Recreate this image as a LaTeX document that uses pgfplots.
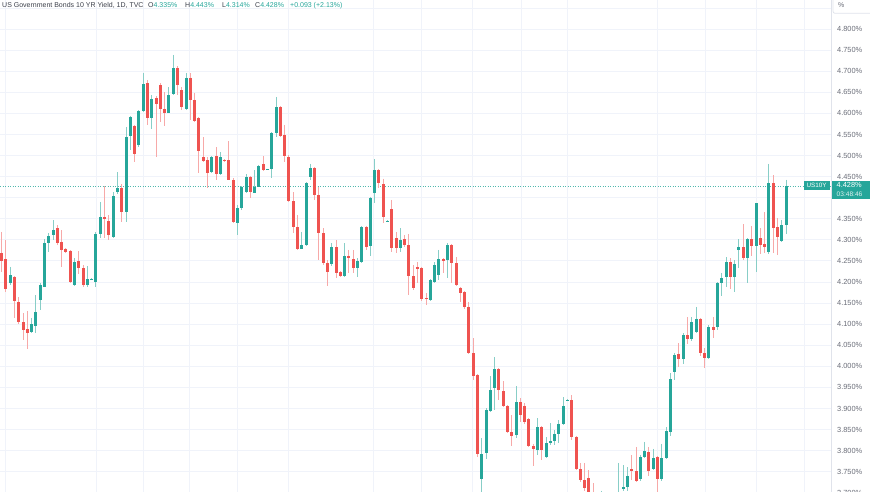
\documentclass[border=0pt]{standalone}
\usepackage{pgfplots}
\usepackage{pgfplotstable}
\pgfplotsset{compat=1.18}
\usepackage{fontspec}
\setmainfont{Liberation Sans}
\definecolor{up}{HTML}{26A69A}
\definecolor{down}{HTML}{EF5350}
\definecolor{gridc}{HTML}{F0F3FA}
\definecolor{axisc}{HTML}{E0E3EB}
\definecolor{lblc}{HTML}{6A6D78}
\definecolor{txt}{HTML}{3B3F4A}

% rising candles
\pgfplotstableread{
i O H L C
3 4.198 4.236 4.193 4.216
8 4.081 4.115 4.079 4.100
9 4.096 4.169 4.079 4.129
10 4.157 4.198 4.133 4.193
11 4.188 4.302 4.188 4.292
12 4.292 4.316 4.271 4.309
13 4.312 4.347 4.299 4.323
18 4.193 4.257 4.191 4.247
21 4.193 4.238 4.188 4.207
22 4.206 4.209 4.204 4.207
23 4.199 4.319 4.188 4.314
24 4.314 4.390 4.304 4.354
27 4.307 4.413 4.304 4.404
28 4.413 4.461 4.408 4.423
30 4.365 4.568 4.342 4.544
31 4.546 4.594 4.513 4.591
33 4.525 4.608 4.520 4.606
34 4.606 4.696 4.603 4.669
36 4.589 4.644 4.563 4.634
40 4.601 4.662 4.601 4.644
41 4.646 4.739 4.644 4.707
44 4.611 4.696 4.608 4.684
50 4.461 4.498 4.458 4.496
52 4.456 4.508 4.453 4.496
56 4.340 4.382 4.312 4.375
57 4.375 4.428 4.370 4.425
58 4.413 4.456 4.411 4.449
60 4.411 4.465 4.411 4.425
61 4.425 4.478 4.425 4.475
63 4.467 4.469 4.465 4.468
64 4.468 4.556 4.447 4.553
65 4.553 4.639 4.544 4.615
71 4.279 4.319 4.278 4.287
72 4.287 4.437 4.285 4.435
73 4.449 4.480 4.442 4.470
78 4.242 4.292 4.238 4.283
81 4.214 4.292 4.212 4.262
84 4.233 4.257 4.212 4.249
85 4.247 4.332 4.245 4.330
87 4.285 4.402 4.262 4.399
88 4.411 4.491 4.387 4.465
91 4.344 4.347 4.342 4.345
94 4.281 4.328 4.271 4.299
101 4.157 4.207 4.155 4.204
102 4.199 4.247 4.198 4.240
103 4.216 4.276 4.204 4.254
105 4.252 4.292 4.209 4.287
113 3.733 3.830 3.690 3.792
114 3.794 3.901 3.780 3.897
115 3.894 3.977 3.892 3.944
116 3.948 4.022 3.897 3.993
121 3.837 3.953 3.830 3.915
126 3.801 3.877 3.789 3.856
128 3.784 3.832 3.782 3.818
129 3.818 3.865 3.814 3.823
130 3.823 3.849 3.814 3.839
131 3.839 3.872 3.818 3.864
132 3.864 3.927 3.861 3.906
133 3.919 3.922 3.917 3.920
141 3.697 3.705 3.667 3.699
144 3.648 3.697 3.628 3.687
145 3.687 3.771 3.677 3.699
146 3.709 3.766 3.704 3.714
147 3.714 3.761 3.704 3.740
150 3.733 3.789 3.728 3.784
151 3.784 3.821 3.782 3.799
153 3.756 3.804 3.754 3.782
155 3.733 3.816 3.728 3.782
156 3.782 3.856 3.780 3.846
157 3.844 3.984 3.834 3.970
158 3.987 4.032 3.967 4.027
160 4.017 4.079 4.005 4.074
162 4.065 4.116 4.060 4.105
163 4.081 4.141 4.079 4.113
166 4.020 4.098 4.017 4.093
168 4.093 4.199 4.086 4.198
169 4.198 4.221 4.166 4.209
170 4.212 4.259 4.188 4.247
172 4.212 4.252 4.176 4.242
173 4.276 4.302 4.233 4.283
175 4.257 4.304 4.198 4.302
177 4.285 4.387 4.224 4.387
180 4.271 4.480 4.266 4.435
183 4.297 4.347 4.295 4.335
184 4.335 4.443 4.314 4.428
}\upc

% falling candles
\pgfplotstableread{
i O H L C
1 4.269 4.319 4.224 4.249
2 4.254 4.299 4.176 4.183
4 4.212 4.214 4.114 4.155
5 4.153 4.164 4.100 4.105
6 4.105 4.126 4.063 4.086
7 4.088 4.131 4.041 4.079
14 4.328 4.335 4.287 4.292
15 4.295 4.323 4.236 4.276
16 4.279 4.281 4.269 4.271
17 4.274 4.276 4.198 4.199
19 4.249 4.274 4.219 4.233
20 4.233 4.240 4.188 4.193
25 4.354 4.428 4.304 4.349
26 4.345 4.359 4.299 4.312
29 4.423 4.433 4.342 4.365
32 4.570 4.573 4.485 4.503
35 4.672 4.679 4.573 4.589
37 4.636 4.641 4.496 4.622
38 4.667 4.672 4.579 4.611
39 4.611 4.651 4.570 4.601
42 4.707 4.712 4.644 4.667
43 4.655 4.662 4.608 4.615
45 4.684 4.696 4.584 4.632
46 4.632 4.649 4.579 4.582
47 4.589 4.591 4.458 4.511
48 4.496 4.544 4.485 4.487
49 4.489 4.496 4.423 4.458
51 4.498 4.520 4.442 4.456
53 4.489 4.491 4.485 4.487
54 4.489 4.534 4.442 4.442
55 4.442 4.446 4.340 4.342
59 4.449 4.451 4.399 4.413
62 4.480 4.498 4.463 4.465
66 4.615 4.617 4.544 4.546
67 4.548 4.573 4.485 4.498
68 4.496 4.501 4.390 4.392
69 4.392 4.413 4.316 4.330
70 4.330 4.359 4.276 4.279
74 4.470 4.473 4.395 4.407
75 4.407 4.425 4.252 4.316
76 4.316 4.328 4.240 4.245
77 4.245 4.252 4.191 4.224
79 4.283 4.299 4.209 4.221
80 4.224 4.226 4.212 4.214
82 4.262 4.276 4.221 4.257
83 4.254 4.276 4.221 4.233
86 4.330 4.332 4.276 4.283
89 4.465 4.468 4.423 4.435
90 4.433 4.445 4.340 4.354
92 4.373 4.395 4.271 4.281
93 4.304 4.319 4.269 4.281
95 4.302 4.312 4.283 4.287
96 4.287 4.314 4.169 4.214
97 4.214 4.240 4.181 4.186
98 4.236 4.247 4.198 4.231
99 4.233 4.236 4.155 4.159
100 4.162 4.174 4.146 4.159
104 4.254 4.257 4.221 4.249
106 4.287 4.290 4.198 4.245
107 4.245 4.259 4.191 4.193
108 4.186 4.188 4.153 4.174
109 4.176 4.179 4.136 4.141
110 4.141 4.153 4.030 4.031
111 4.031 4.067 3.967 3.977
112 3.980 3.982 3.784 3.792
117 3.993 3.995 3.920 3.944
118 3.942 3.965 3.904 3.906
119 3.906 3.908 3.842 3.844
120 3.844 3.884 3.811 3.834
122 3.915 3.925 3.867 3.884
123 3.906 3.913 3.864 3.867
124 3.875 3.877 3.809 3.811
125 3.811 3.816 3.763 3.804
127 3.856 3.858 3.778 3.801
134 3.920 3.932 3.825 3.832
135 3.832 3.834 3.754 3.756
136 3.756 3.771 3.726 3.731
137 3.731 3.771 3.704 3.711
138 3.735 3.754 3.657 3.677
139 3.687 3.723 3.648 3.677
140 3.677 3.697 3.638 3.667
142 3.697 3.700 3.648 3.667
143 3.667 3.692 3.628 3.648
148 3.756 3.789 3.731 3.751
149 3.751 3.809 3.726 3.728
152 3.796 3.809 3.740 3.751
154 3.784 3.787 3.701 3.733
159 4.030 4.055 3.998 4.017
161 4.074 4.116 4.053 4.065
164 4.113 4.115 4.025 4.031
165 4.031 4.043 3.995 4.020
167 4.093 4.116 4.067 4.086
171 4.247 4.257 4.183 4.212
174 4.283 4.337 4.252 4.257
176 4.302 4.332 4.262 4.285
178 4.304 4.328 4.266 4.287
179 4.290 4.365 4.269 4.283
181 4.435 4.453 4.269 4.328
182 4.330 4.352 4.264 4.307
}\dnc

\begin{document}
\begin{tikzpicture}
\begin{axis}[
  at={(0pt,0pt)}, anchor=south west,
  scale only axis, width=831pt, height=492pt,
  xmin=0.603, xmax=194.48, ymin=3.702, ymax=4.869,
  axis line style={draw=none},
  xtick={2,23.2,34,44.9,56.1,68,87.8,99,110.9,122.2,133.1,154.1,165.1,177.2,188.2},
  xticklabels={},
  ytick={3.75,3.80,3.85,3.90,3.95,4.00,4.05,4.10,4.15,4.20,4.25,4.30,4.35,4.45,4.50,4.55,4.60,4.65,4.70,4.75,4.80},
  extra y ticks={4.40,4.85},
  extra y tick labels={},
  extra y tick style={grid=major, major grid style={draw=gridc, line width=1pt}},
  yticklabel pos=right,
  major tick length=0pt,
  xmajorgrids, ymajorgrids,
  major grid style={draw=gridc, line width=1pt},
  /pgf/number format/assume math mode=true,
  yticklabel style={anchor=west, inner sep=0pt, xshift=6pt, font=\fontsize{7.4}{8}\selectfont, text=lblc},
  yticklabel={\pgfmathprintnumber[fixed,fixed zerofill,precision=3]{\tick}\%},
  clip=true,
]
% price line
\addplot[draw=up, line width=0.7pt, dash pattern=on 1pt off 1.5pt, opacity=0.8] coordinates {(0.603,4.428) (194.48,4.428)};
% wicks
\addplot[draw=none, mark=none, error bars/.cd, y dir=minus, y explicit, error mark=none,
  error bar style={draw=up!55, line width=1pt}]
  table[x=i, y=H, y error minus expr={\thisrow{H}-\thisrow{L}}] {\upc};
\addplot[draw=none, mark=none, error bars/.cd, y dir=minus, y explicit, error mark=none,
  error bar style={draw=down!50, line width=1pt}]
  table[x=i, y=H, y error minus expr={\thisrow{H}-\thisrow{L}}] {\dnc};
% bodies
\addplot[draw=none, mark=none, error bars/.cd, y dir=minus, y explicit, error mark=none,
  error bar style={draw=up, line width=3pt}]
  table[x=i, y=C, y error minus expr={max(\thisrow{C}-\thisrow{O},0.0024)}] {\upc};
\addplot[draw=none, mark=none, error bars/.cd, y dir=minus, y explicit, error mark=none,
  error bar style={draw=down, line width=3pt}]
  table[x=i, y=O, y error minus expr={max(\thisrow{O}-\thisrow{C},0.0024)}] {\dnc};
\end{axis}
% right scale border
\draw[axisc, line width=1pt] (831pt,0pt) -- (831pt,492pt);
% bottom, partly cut label
\node[anchor=west, inner sep=0pt, text=lblc, font=\fontsize{7.4}{8}\selectfont] at (837pt,-1.2pt) {3.700\%};
% % box
\draw[axisc, fill=white, rounded corners=2pt, line width=0.8pt] (833pt,478.7pt) rectangle (872pt,496pt);
\node[anchor=west, inner sep=0pt, text=lblc, font=\fontsize{7}{8}\selectfont] at (838pt,486.5pt) {\%};
% badges
\fill[up] (803.5pt,301.8pt) rectangle (829.5pt,310.6pt);
\node[text=white, inner sep=0pt, font=\fontsize{6.3}{7}\selectfont] at (816.5pt,306.2pt) {US10Y};
\fill[up] (831.5pt,293pt) rectangle (871pt,311pt);
\node[anchor=west, text=white, inner sep=0pt, font=\fontsize{7.4}{8}\selectfont] at (836.5pt,306.6pt) {4.428\%};
\node[anchor=west, text=white, opacity=0.85, inner sep=0pt, font=\fontsize{6.6}{7}\selectfont] at (836.5pt,298pt) {03:48:46};
% header
\node[anchor=base west, inner sep=0pt, text=txt, font=\fontsize{7}{8}\selectfont] at (2pt,484pt) {US Government Bonds 10 YR Yield, 1D, TVC};
\node[anchor=base west, inner sep=0pt, text=txt, font=\fontsize{7}{8}\selectfont] at (148pt,484pt) {O\textcolor{up}{4.335\%}};
\node[anchor=base west, inner sep=0pt, text=txt, font=\fontsize{7}{8}\selectfont] at (185pt,484pt) {H\textcolor{up}{4.443\%}};
\node[anchor=base west, inner sep=0pt, text=txt, font=\fontsize{7}{8}\selectfont] at (222pt,484pt) {L\textcolor{up}{4.314\%}};
\node[anchor=base west, inner sep=0pt, text=txt, font=\fontsize{7}{8}\selectfont] at (255pt,484pt) {C\textcolor{up}{4.428\%}};
\node[anchor=base west, inner sep=0pt, text=up, font=\fontsize{7}{8}\selectfont] at (290pt,484pt) {+0.093 (+2.13\%)};
\pgfresetboundingbox
\useasboundingbox (0pt,0pt) rectangle (870pt,492pt);
\end{tikzpicture}
\end{document}
